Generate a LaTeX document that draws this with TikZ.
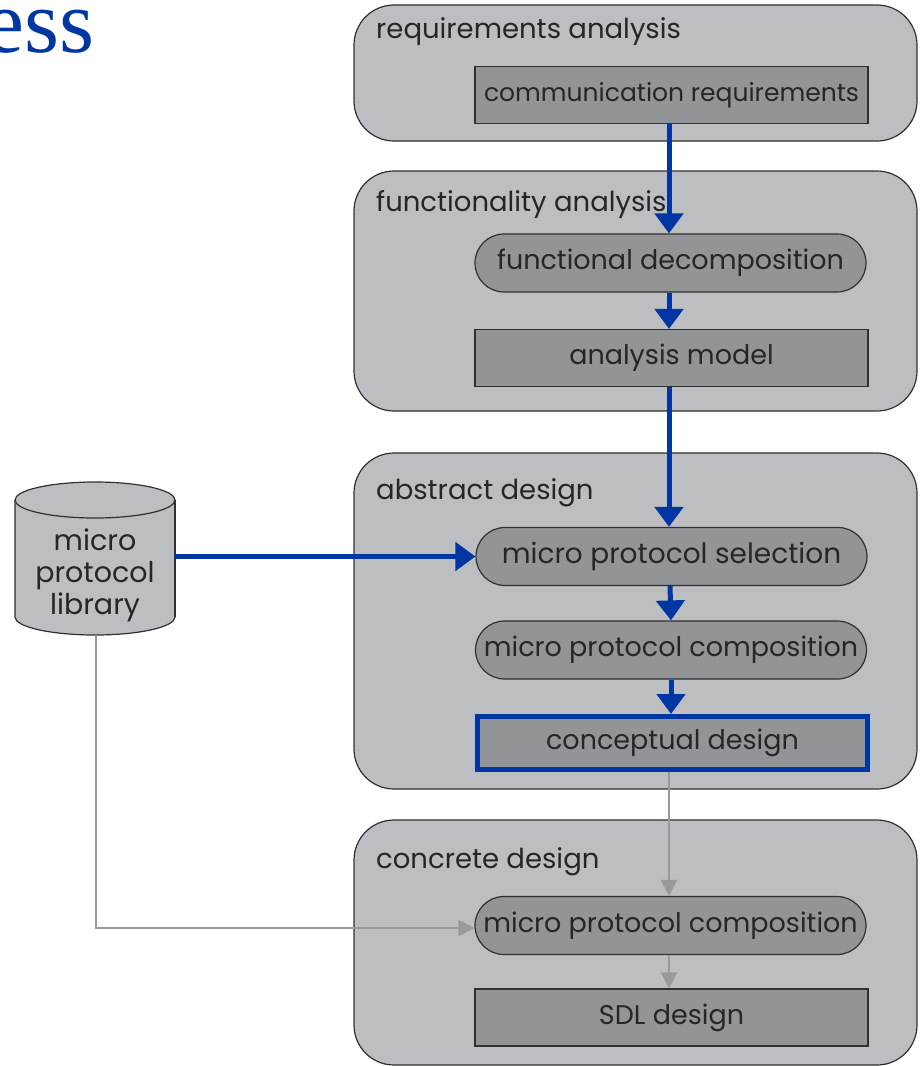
\documentclass[tikz,border=0pt]{standalone}
\usepackage{fontspec}
\setmainfont{Poppins}
\newfontfamily\headfont{Liberation Serif}
\usetikzlibrary{arrows.meta}
\definecolor{phasefill}{HTML}{BDBEC2}
\definecolor{itemfill}{HTML}{939497}
\definecolor{edgegray}{HTML}{303030}
\definecolor{flowblue}{HTML}{0036A2}
\definecolor{flowgray}{HTML}{9A9A9C}
\tikzset{
  x=1pt, y=-1pt,
  phase/.style={draw=edgegray, line width=1.2pt, fill=phasefill, rounded corners=40pt,
    minimum width=563pt, inner sep=0pt},
  phasetitle/.style={anchor=west, inner sep=0pt, font=\fontsize{27.5}{30}\selectfont, text=black!85},
  itembox/.style={draw=edgegray, line width=1.2pt, fill=itemfill, minimum width=393pt,
    minimum height=57pt, inner sep=0pt, font=\fontsize{27}{30}\selectfont, text=black!85},
  activity/.style={itembox, rounded corners=29pt, minimum width=391pt, minimum height=58pt},
  blueflow/.style={draw=flowblue, line width=5pt, -{Triangle[width=28pt,length=20pt]}},
  grayflow/.style={draw=flowgray, line width=2.5pt, -{Triangle[width=16pt,length=16pt]}},
}
\begin{document}
\begin{tikzpicture}
\useasboundingbox (0,0) rectangle (921,1066);

% partial heading
\node[anchor=base east, inner sep=0pt, text=flowblue, font=\headfont\fontsize{90}{90}\selectfont] (head) at (95,52) {ess};

% phases
\node[phase, minimum height=136pt] (req) at (635.5,73) {};
\node[phasetitle] (reqT) at (376,32) {requirements analysis};
\node[itembox, font=\fontsize{25}{30}\selectfont] (comm) at (671.5,95) {communication requirements};

\node[phase, minimum height=240pt] (fun) at (635.5,291) {};
\node[phasetitle] (funT) at (376,205) {functionality analysis};
\node[activity] (decomp) at (670.5,263) {functional decomposition};
\node[itembox] (amodel) at (671.5,358) {analysis model};

\node[phase, minimum height=336pt] (abs) at (635.5,621) {};
\node[phasetitle] (absT) at (376,493) {abstract design};
\node[activity, font=\fontsize{28}{30}\selectfont] (sel) at (671.5,556.5) {micro protocol selection};
\node[activity] (comp) at (671,650) {micro protocol composition};
\node[itembox, draw=flowblue, line width=5pt, minimum width=390pt, minimum height=53pt] (concept) at (672.5,743) {conceptual design};

\node[phase, minimum height=245pt] (con) at (635.5,942.5) {};
\node[phasetitle] (conT) at (376,862) {concrete design};
\node[activity] (comp2) at (670.5,925.5) {micro protocol composition};
\node[itembox] (sdl) at (671.5,1017.5) {SDL design};

% library cylinder
\fill[phasefill] (15,500) -- (15,617) arc (180:360:80pt and 18pt) -- (175,500) arc (0:180:80pt and 18pt) -- cycle;
\draw[edgegray, line width=1.2pt] (15,500) -- (15,617) arc (180:360:80pt and 18pt);
\draw[edgegray, line width=2.5pt] (175,617) -- (175,500);
\draw[edgegray, line width=1.2pt] (95,500) ellipse (80pt and 18pt);
\node[inner sep=0pt, minimum width=160pt, minimum height=134pt, align=center,
  font=\fontsize{28.5}{32}\selectfont, text=black!85] (lib) at (95,568) {};
\node[align=center, inner sep=0pt, font=\fontsize{28.5}{32}\selectfont, text=black!85]
  (libtext) at (95,575) {micro\\protocol\\library};
\coordinate (bend) at (96,928);

% flows
\draw[blueflow] (comm.south -| decomp.north) ++(-1.5,0) -- ([xshift=-1.5pt]decomp.north);
\draw[blueflow] ([xshift=-1.5pt]decomp.south) -- ([xshift=-2.5pt]amodel.north);
\draw[blueflow] ([xshift=-2.5pt]amodel.south) -- ([xshift=-2.5pt]sel.north);
\draw[blueflow] (lib.east |- sel.west) -- (sel.west);
\draw[blueflow] ([xshift=-1.5pt]sel.south) -- (comp.north);
\draw[blueflow] (comp.north |- comp.south) -- (comp.south |- concept.north);
\draw[grayflow] ([xshift=-3.5pt]concept.south) -- ([xshift=-1.5pt]comp2.north);
\draw[grayflow] ([xshift=-1.5pt]comp2.south) -- ([xshift=-2.5pt]sdl.north);
\draw[grayflow] (lib.south -| bend) -- (bend) -- (bend -| comp2.west);
\end{tikzpicture}
\end{document}
